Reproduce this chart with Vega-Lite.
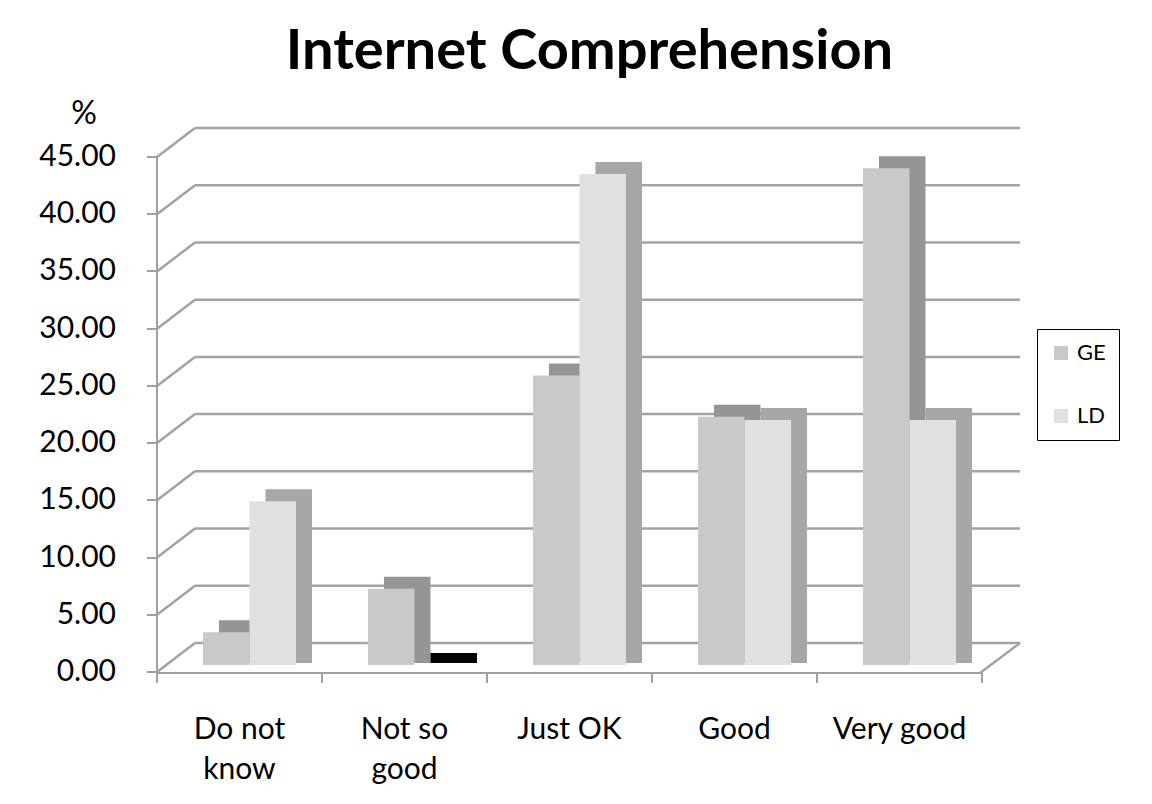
{
  "$schema": "https://vega.github.io/schema/vega-lite/v6.json",
  "width": 825,
  "height": 515,
  "autosize": {"type": "none"},
  "padding": {"left": 195, "top": 128, "right": 132, "bottom": 161},
  "background": "#ffffff",
  "title": {
    "text": "Internet Comprehension",
    "font": "Lato",
    "fontSize": 56,
    "fontWeight": "bold",
    "color": "#000000",
    "anchor": "middle",
    "frame": "group",
    "dx": -18,
    "offset": -12
  },
  "datasets": {
    "bars": [
      {"cat": "Do not know", "series": "GE", "value": 2.86},
      {"cat": "Do not know", "series": "LD", "value": 14.3},
      {"cat": "Not so good", "series": "GE", "value": 6.67},
      {"cat": "Not so good", "series": "LD", "value": 0},
      {"cat": "Just OK", "series": "GE", "value": 25.3},
      {"cat": "Just OK", "series": "LD", "value": 42.9},
      {"cat": "Good", "series": "GE", "value": 21.7},
      {"cat": "Good", "series": "LD", "value": 21.4},
      {"cat": "Very good", "series": "GE", "value": 43.4},
      {"cat": "Very good", "series": "LD", "value": 21.4}
    ],
    "ticks": [
      {"v": 0}, {"v": 5}, {"v": 10}, {"v": 15}, {"v": 20},
      {"v": 25}, {"v": 30}, {"v": 35}, {"v": 40}, {"v": 45}
    ]
  },
  "resolve": {"scale": {"xOffset": "independent"}},
  "layer": [
    {
      "data": {"name": "ticks"},
      "mark": {"type": "rule", "color": "#a3a3a3", "strokeWidth": 2.5},
      "encoding": {
        "y": {"field": "v", "type": "quantitative", "scale": {"domain": [0, 45], "nice": false}, "axis": {"title": "%"}}
      }
    },
    {
      "data": {"name": "ticks"},
      "mark": {"type": "rule", "color": "#a3a3a3", "strokeWidth": 2.5, "x2Offset": -38, "y2Offset": 29},
      "encoding": {
        "x": {"datum": "Do not know", "type": "nominal", "bandPosition": 0},
        "x2": {"datum": "Do not know", "bandPosition": 0},
        "y": {"field": "v", "type": "quantitative", "axis": {"title": "%"}},
        "y2": {"field": "v"}
      }
    },
    {
      "data": {"values": [{}]},
      "mark": {"type": "rule", "color": "#a3a3a3", "strokeWidth": 2.5, "x2Offset": -40, "y2Offset": 30},
      "encoding": {
        "x": {"datum": "Very good", "type": "nominal", "bandPosition": 1},
        "x2": {"datum": "Very good", "bandPosition": 1},
        "y": {"datum": 0, "type": "quantitative", "axis": {"title": "%"}},
        "y2": {"datum": 0}
      }
    },
    {
      "data": {"name": "bars"},
      "mark": {"type": "bar", "yOffset": 10, "y2Offset": 20},
      "encoding": {
        "x": {"field": "cat", "type": "nominal"},
        "xOffset": {"field": "series", "type": "nominal", "scale": {"paddingInner": 0, "paddingOuter": 0.774, "align": 0.333}},
        "y": {"field": "value", "type": "quantitative", "axis": {"title": "%"}},
        "y2": {"datum": 0},
        "fill": {
          "condition": {"test": "datum.value === 0", "value": "#000000"},
          "field": "series",
          "type": "nominal",
          "scale": {"range": ["#959595", "#a7a7a7"]},
          "legend": null
        }
      }
    },
    {
      "data": {"name": "bars"},
      "mark": {"type": "bar", "yOffset": 22, "y2Offset": 22},
      "encoding": {
        "x": {
          "field": "cat",
          "type": "nominal",
          "scale": {"domain": ["Do not know", "Not so good", "Just OK", "Good", "Very good"], "paddingInner": 0, "paddingOuter": 0},
          "axis": {
            "title": null,
            "labelExpr": "datum.value == 'Do not know' ? ['Do not', 'know'] : datum.value == 'Not so good' ? ['Not so', 'good'] : datum.value"
          }
        },
        "xOffset": {"field": "series", "type": "nominal", "scale": {"paddingInner": 0, "paddingOuter": 0.774, "align": 0.111}},
        "y": {"field": "value", "type": "quantitative", "axis": {"title": "%"}},
        "color": {
          "field": "series",
          "type": "nominal",
          "scale": {"range": ["#c9c9c9", "#e0e0e0"]},
          "legend": {
            "orient": "none",
            "legendX": 842,
            "legendY": 201,
            "title": null,
            "symbolType": "square",
            "symbolSize": 196,
            "symbolStrokeWidth": 0,
            "symbolOpacity": 1,
            "labelFont": "Lato",
            "labelFontSize": 22,
            "labelColor": "#000000",
            "labelOffset": 5,
            "rowPadding": 41,
            "padding": 13,
            "strokeColor": "#000000",
            "fillColor": "#ffffff"
          }
        }
      }
    }
  ],
  "config": {
    "view": {"stroke": null},
    "axisY": {
      "translate": 29,
      "offset": 67,
      "grid": false,
      "values": [0, 5, 10, 15, 20, 25, 30, 35, 40, 45],
      "format": ".2f",
      "domainColor": "#a0a0a0",
      "domainWidth": 2,
      "tickColor": "#a0a0a0",
      "tickWidth": 2,
      "tickSize": 10,
      "labelFont": "Lato",
      "labelFontSize": 30,
      "labelColor": "#000000",
      "labelPadding": 31,
      "titleAngle": 0,
      "titleX": -73,
      "titleY": -43,
      "titleAlign": "center",
      "titleBaseline": "middle",
      "titleFont": "Lato",
      "titleFontSize": 32,
      "titleFontWeight": "normal",
      "titleColor": "#000000"
    },
    "axisX": {
      "translate": -38,
      "offset": 68,
      "grid": false,
      "tickBand": "extent",
      "domainColor": "#a0a0a0",
      "domainWidth": 2,
      "tickColor": "#a0a0a0",
      "tickWidth": 2,
      "tickSize": 10,
      "labelAngle": 0,
      "labelFont": "Lato",
      "labelFontSize": 30,
      "labelColor": "#000000",
      "labelPadding": 32,
      "labelBaseline": "top",
      "labelLineHeight": 40
    }
  }
}
